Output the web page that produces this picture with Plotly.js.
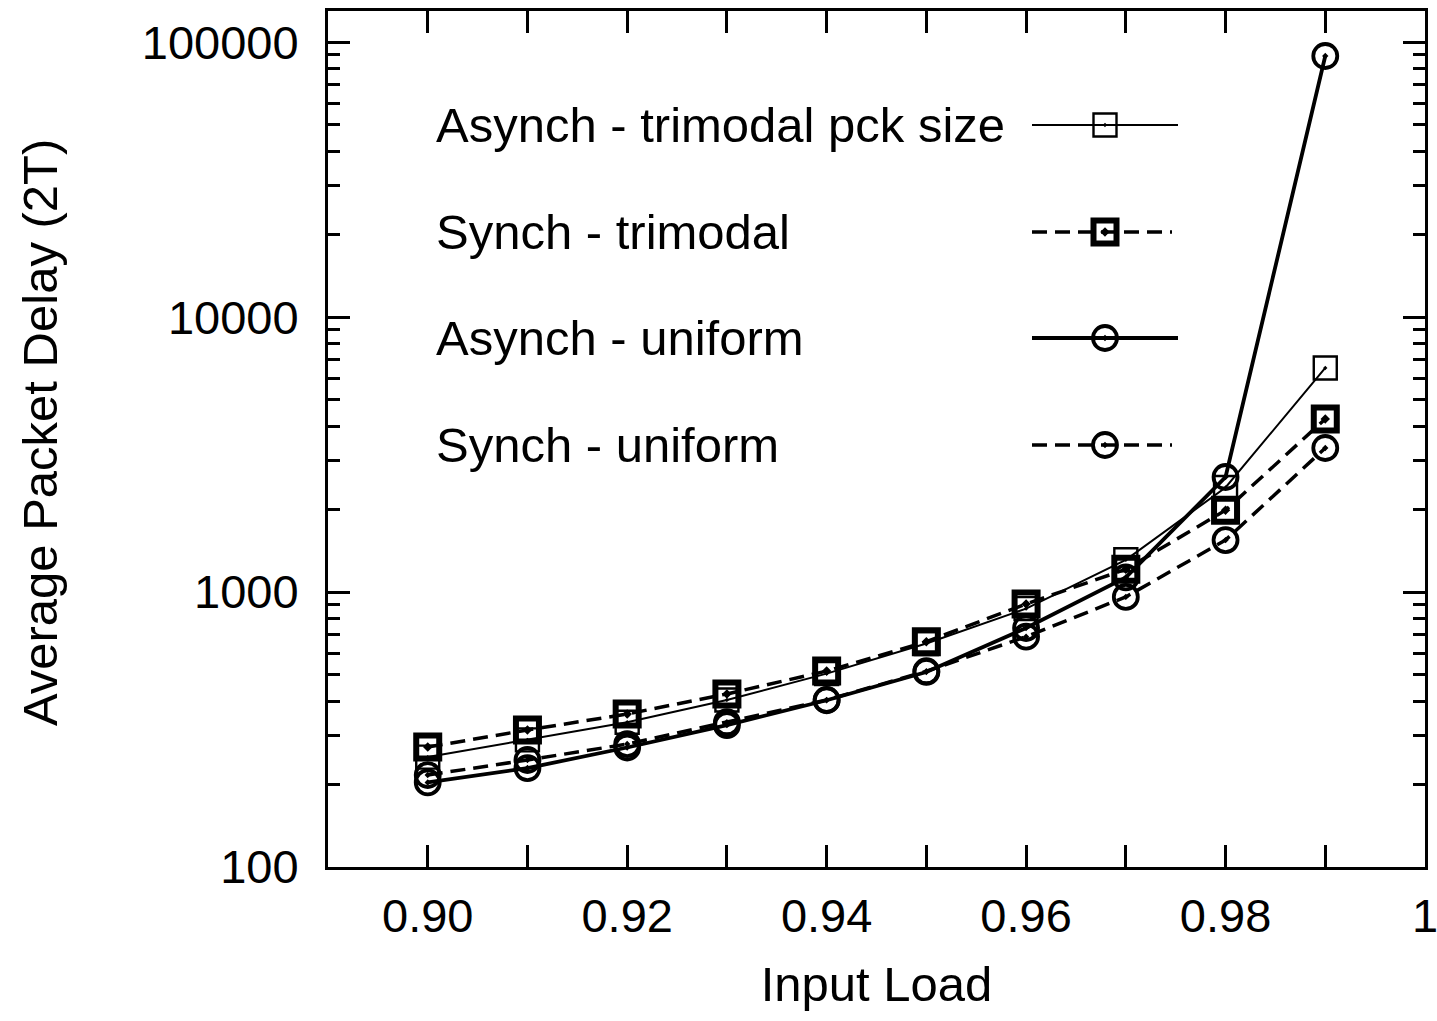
<!DOCTYPE html>
<html>
<head>
<meta charset="utf-8">
<script src="https://cdn.plot.ly/plotly-3.0.1.min.js"></script>
<style>
html,body{margin:0;padding:0;background:#fff;}
#chart{width:1437px;height:1021px;}
</style>
</head>
<body>
<div id="chart"></div>
<script>
// ---- data ----
const inputLoad = [0.90, 0.91, 0.92, 0.93, 0.94, 0.95, 0.96, 0.97, 0.98, 0.99];
const asynchTrimodal = [251, 290, 336, 405, 505, 650, 870, 1310, 2400, 6530];
const synchTrimodal  = [273, 315, 360, 426, 516, 660, 905, 1210, 1985, 4260];
const asynchUniform  = [203, 229, 272, 328, 404, 512, 740, 1130, 2620, 89000];
const synchUniform   = [216, 245, 280, 336, 405, 515, 688, 960, 1545, 3340];

const seriesNames = ["Asynch - trimodal pck size", "Synch - trimodal", "Asynch - uniform", "Synch - uniform"];

const xTickVals = [0.90, 0.91, 0.92, 0.93, 0.94, 0.95, 0.96, 0.97, 0.98, 0.99, 1.00];
const xTickText = ["0.90", "", "0.92", "", "0.94", "", "0.96", "", "0.98", "", "1"];
const yTickVals = [100, 1000, 10000, 100000];
const yTickText = ["100", "1000", "10000", "100000"];
const yMinorVals = [200,300,400,500,600,700,800,900,
                    2000,3000,4000,5000,6000,7000,8000,9000,
                    20000,30000,40000,50000,60000,70000,80000,90000];

// ---- styles ----
const DASH = "15px,8px";
const styles = [
  {line: {color: "#000", width: 2, dash: "solid"}, marker: {symbol: "square-open-dot", size: 23, line: {width: 2.4, color: "#000"}, color: "#000"}},
  {line: {color: "#000", width: 3.5, dash: DASH},  marker: {symbol: "square-open-dot", size: 23, line: {width: 6, color: "#000"}, color: "#000"}},
  {line: {color: "#000", width: 3.8, dash: "solid"}, marker: {symbol: "circle-open-dot", size: 24, line: {width: 3.8, color: "#000"}, color: "#000"}},
  {line: {color: "#000", width: 3.5, dash: DASH},  marker: {symbol: "circle-open-dot", size: 24, line: {width: 3.8, color: "#000"}, color: "#000"}}
];
const seriesValues = [asynchTrimodal, synchTrimodal, asynchUniform, synchUniform];

const traces = [];
seriesValues.forEach((vals, i) => {
  traces.push({
    type: "scatter", mode: "lines+markers",
    x: inputLoad, y: vals, name: seriesNames[i],
    line: styles[i].line, marker: styles[i].marker,
    showlegend: false, hoverinfo: "x+y+name"
  });
});

// ---- hand-drawn key (gnuplot style: text left, sample right) ----
const keyRowsY = [125, 232, 338, 445];
const keyTextX = 434;
const keyLineStart = 1032, keyLineEndSolid = 1178, keyLineEndDash = 1172, keyMarkX = 1105;
const KEYFONT = {family: "Liberation Sans, Arial, sans-serif", size: 49, color: "#000"};
const annotations = [];
seriesNames.forEach((nm, i) => {
  const dashed = styles[i].line.dash !== "solid";
  traces.push({
    type: "scatter", mode: "lines", xaxis: "x2", yaxis: "y2",
    x: [keyLineStart, dashed ? keyLineEndDash : keyLineEndSolid], y: [keyRowsY[i], keyRowsY[i]],
    line: styles[i].line, showlegend: false, hoverinfo: "skip"
  });
  traces.push({
    type: "scatter", mode: "markers", xaxis: "x2", yaxis: "y2",
    x: [keyMarkX], y: [keyRowsY[i]],
    marker: styles[i].marker, showlegend: false, hoverinfo: "skip"
  });
  annotations.push({
    xref: "x2", yref: "y2", x: keyTextX, y: keyRowsY[i],
    xanchor: "left", yanchor: "middle", showarrow: false,
    text: nm, font: KEYFONT
  });
});

const FONT = {family: "Liberation Sans, Arial, sans-serif", size: 47, color: "#000"};
const TITLEFONT = {family: "Liberation Sans, Arial, sans-serif", size: 49, color: "#000"};

// y-axis title placed as a rotated annotation (gnuplot leaves a wide gap)
annotations.push({
  xref: "paper", yref: "paper", x: -0.2625, y: 0.507,
  xanchor: "center", yanchor: "middle", textangle: -90, showarrow: false,
  text: "Average Packet Delay (2T)", font: TITLEFONT
});

const layout = {
  width: 1437, height: 1021,
  margin: {l: 328, r: 12, t: 11, b: 154, pad: 0},
  paper_bgcolor: "#fff", plot_bgcolor: "#fff",
  font: FONT,
  showlegend: false,
  xaxis: {
    range: [0.89, 1.0], showgrid: false, zeroline: false,
    showline: true, linecolor: "#000", linewidth: 3, mirror: "ticks",
    ticks: "inside", ticklen: 22, tickwidth: 3, tickcolor: "#000",
    tickmode: "array", tickvals: xTickVals, ticktext: xTickText,
    tickfont: FONT, ticklabelstandoff: 6, ticklabeloverflow: "allow",
    title: {text: "Input Load", font: TITLEFONT, standoff: 26},
    automargin: false
  },
  yaxis: {
    type: "log", range: [2, 5.113], showgrid: false, zeroline: false,
    showline: true, linecolor: "#000", linewidth: 3, mirror: "ticks",
    ticks: "inside", ticklen: 22, tickwidth: 3, tickcolor: "#000",
    tickmode: "array", tickvals: yTickVals, ticktext: yTickText,
    tickfont: FONT, ticklabelstandoff: 17,
    minor: {tickmode: "array", tickvals: yMinorVals, ticks: "inside", ticklen: 12, tickwidth: 3, tickcolor: "#000", showgrid: false},
    automargin: false
  },
  xaxis2: {overlaying: "x", range: [328, 1425], visible: false, fixedrange: true},
  yaxis2: {overlaying: "y", range: [867, 11], visible: false, fixedrange: true},
  annotations: annotations
};

Plotly.newPlot("chart", traces, layout, {displayModeBar: false, staticPlot: true});
</script>
</body>
</html>
